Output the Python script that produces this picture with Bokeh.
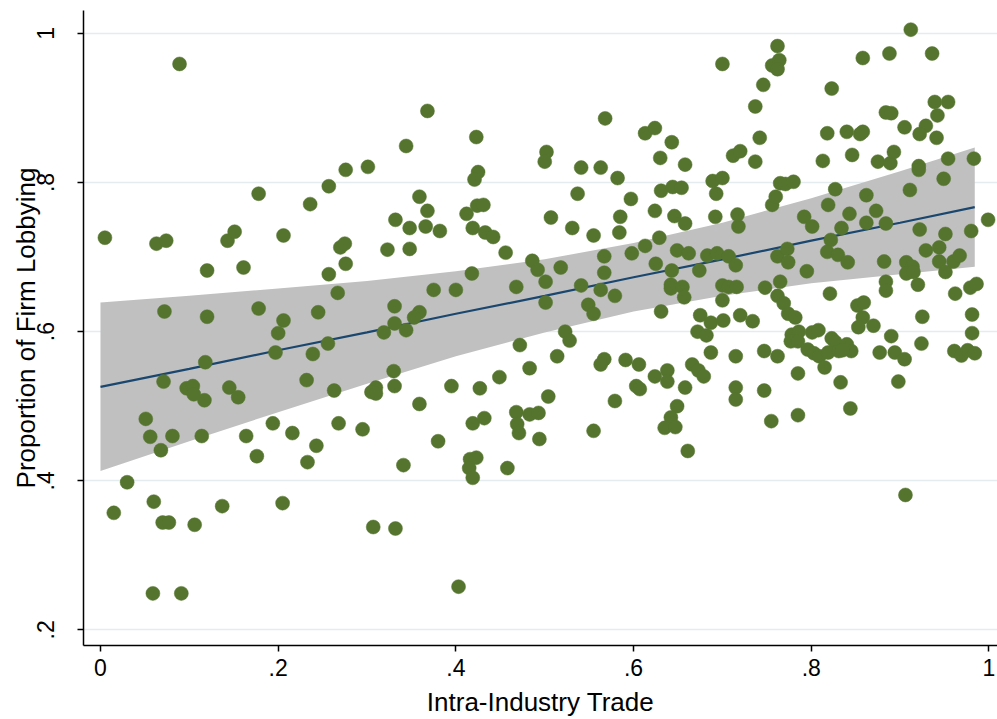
from bokeh.plotting import figure
from bokeh.models import FixedTicker, Range1d
from bokeh.embed import file_html
from bokeh.resources import INLINE

# Intra-industry trade (x) and proportion of firms lobbying (y)
trade = [
    .005, .015, .030, .060, .070, .077, .106, .137, .205, .059, .091, .056, .081, .114, .164,
    .068, .176, .216, .243, .233, .063, .074, .143, .151, .206, .120, .161, .072, .120, .178,
    .206, .245, .200, .197, .239, .118, .071, .232, .097, .104, .105, .117, .145, .155, .051,
    .194, .089, .178, .236,
    .257, .276, .301, .344, .368, .423, .425, .421, .359, .368, .332, .348, .366, .382, .412,
    .424, .431, .419, .433, .502, .500, .507, .442, .456, .270, .275, .323, .348, .276, .257,
    .418, .486, .492, .267, .375, .400, .468, .501, .501, .331, .359, .353, .331, .319, .344,
    .256, .472, .330, .483, .331, .449, .263, .310, .305, .310, .395, .427, .504, .359, .268,
    .295, .419, .432, .468, .483, .493, .469, .471, .380, .494, .341, .416, .423, .415, .419,
    .458, .307, .332, .403,
    .531, .555, .584, .658, .718, .629, .613, .598, .567, .649, .662, .683, .694, .707, .518,
    .625, .567, .643, .674, .715, .541, .563, .579, .642, .642, .655, .657, .700, .707, .716,
    .748, .762, .700, .549, .555, .631, .675, .687, .701, .720, .734, .762, .523, .528, .672,
    .682, .514, .687, .715, .747, .762, .567, .563, .591, .606, .624, .638, .638, .666, .673,
    .679, .603, .607, .658, .715, .715, .747, .579, .649, .642, .635, .647, .555, .755, .661,
    .700, .568, .613, .624, .643, .630, .658, .541, .563, .582, .537, .597, .631, .644, .654,
    .585, .624, .646, .689, .700, .693, .692, .717, .712, .720, .737, .742, .737, .746, .756,
    .764, .762, .762, .765, .756, .760,
    .912, .858, .888, .936, .823, .939, .954, .884, .890, .942, .905, .929, .922, .941, .818,
    .840, .855, .858, .846, .813, .875, .889, .893, .921, .921, .954, .983, .771, .780, .827,
    .862, .911, .949, .819, .792, .843, .873, .801, .834, .862, .884, .922, .951, .980, .999,
    .822, .818, .830, .841, .773, .774, .795, .765, .882, .929, .944, .907, .914, .907, .915,
    .944, .951, .960, .967, .920, .884, .884, .821, .962, .979, .986, .769, .852, .859, .774,
    .782, .858, .853, .870, .925, .981, .981, .778, .786, .777, .785, .801, .808, .823, .827,
    .840, .845, .796, .803, .809, .819, .831, .835, .815, .890, .877, .894, .905, .924, .961,
    .969, .976, .984, .785, .833, .898, .844, .785, .906,
]
lobbying = [
    .726, .357, .398, .372, .344, .344, .341, .366, .370, .249, .249, .459, .460, .460, .460,
    .441, .433, .464, .447, .425, .718, .722, .722, .734, .729, .682, .686, .627, .620, .631,
    .615, .626, .598, .572, .570, .559, .533, .535, .524, .527, .516, .508, .525, .512, .483,
    .477, .959, .785, .771,
    .795, .817, .821, .849, .896, .861, .814, .804, .781, .762, .750, .739, .741, .735, .758,
    .769, .770, .739, .733, .841, .828, .753, .727, .706, .713, .718, .710, .711, .691, .677,
    .678, .695, .683, .652, .656, .656, .660, .667, .639, .634, .626, .619, .611, .599, .602,
    .584, .582, .547, .551, .527, .539, .521, .525, .519, .517, .527, .524, .513, .503, .477,
    .469, .477, .484, .492, .489, .491, .476, .464, .453, .456, .421, .429, .431, .417, .404,
    .417, .338, .336, .258,
    .739, .729, .733, .745, .741, .726, .715, .705, .701, .709, .705, .702, .705, .701, .686,
    .691, .679, .682, .682, .689, .662, .656, .648, .663, .658, .660, .646, .662, .660, .660,
    .659, .701, .642, .636, .624, .627, .622, .612, .615, .622, .614, .648, .600, .588, .600,
    .595, .567, .572, .567, .574, .567, .563, .556, .562, .556, .540, .548, .533, .556, .548,
    .540, .527, .523, .525, .525, .509, .521, .507, .500, .485, .471, .472, .467, .480, .440,
    .959, .886, .866, .873, .854, .833, .824, .820, .820, .806, .785, .778, .789, .794, .793,
    .754, .762, .755, .802, .806, .785, .754, .757, .836, .842, .828, .860, .902, .931, .957,
    .964, .952, .983, .799, .770, .781,
    1.005, .967, .973, .973, .926, .908, .908, .894, .893, .890, .874, .876, .865, .860, .866,
    .868, .865, .868, .837, .829, .828, .826, .841, .822, .817, .832, .832, .798, .801, .791,
    .783, .790, .805, .770, .754, .758, .762, .741, .739, .746, .745, .737, .731, .735, .750,
    .723, .707, .703, .693, .711, .693, .681, .667, .694, .709, .713, .693, .687, .678, .680,
    .694, .680, .694, .702, .663, .667, .655, .651, .651, .659, .664, .638, .635, .639, .624,
    .619, .619, .606, .608, .620, .623, .598, .596, .600, .587, .587, .599, .602, .591, .586,
    .583, .574, .576, .571, .567, .572, .574, .575, .552, .594, .572, .572, .563, .584, .574,
    .568, .575, .571, .544, .532, .533, .497, .488, .381,
]

# Linear fit and its 95% confidence band
band_x = [0.0, 0.1, 0.2, 0.3, 0.4, 0.5, 0.6, 0.7, 0.8, 0.9, 0.984]
fit_y = [0.526, 0.550, 0.575, 0.599, 0.624, 0.648, 0.673, 0.697, 0.722, 0.746, 0.767]
band_hi = [0.639, 0.648, 0.658, 0.668, 0.681, 0.697, 0.719, 0.746, 0.779, 0.815, 0.847]
band_lo = [0.413, 0.453, 0.492, 0.530, 0.567, 0.599, 0.627, 0.648, 0.665, 0.677, 0.687]

x_ticks = [0, 0.2, 0.4, 0.6, 0.8, 1.0]
x_tick_labels = ["0", ".2", ".4", ".6", ".8", "1"]
y_ticks = [0.2, 0.4, 0.6, 0.8, 1.0]
y_tick_labels = [".2", ".4", ".6", ".8", "1"]

FONT = "Liberation Sans"

p = figure(width=997, height=719, output_backend="svg", toolbar_location=None,
           x_range=Range1d(-0.0191, 1.0096), y_range=Range1d(0.1791, 1.0307),
           min_border_left=83, min_border_right=0, min_border_top=10, min_border_bottom=72)
p.outline_line_color = None
p.background_fill_color = "white"
p.border_fill_color = "white"

p.varea(x=band_x, y1=band_lo, y2=band_hi, fill_color="#C0C0C0", fill_alpha=1.0)
p.line(band_x, fit_y, line_color="#1A476F", line_width=2.2)
p.scatter(trade, lobbying, size=14, fill_color="#55752F", line_color="#55752F", line_width=0.5)

p.xaxis.ticker = FixedTicker(ticks=x_ticks)
p.xaxis.major_label_overrides = {t: l for t, l in zip(x_ticks, x_tick_labels)}
p.yaxis.ticker = FixedTicker(ticks=y_ticks)
p.yaxis.major_label_overrides = {t: l for t, l in zip(y_ticks, y_tick_labels)}

for ax in (p.xaxis[0], p.yaxis[0]):
    ax.axis_line_color = "black"
    ax.axis_line_width = 1.5
    ax.major_tick_line_color = "black"
    ax.major_tick_line_width = 1.5
    ax.major_tick_out = 6
    ax.major_tick_in = 0
    ax.minor_tick_out = 0
    ax.minor_tick_in = 0
    ax.major_label_text_font = FONT
    ax.major_label_text_font_size = "23px"
    ax.major_label_text_color = "black"
    ax.axis_label_text_font = FONT
    ax.axis_label_text_font_size = "26px"
    ax.axis_label_text_font_style = "normal"
    ax.axis_label_text_color = "black"

p.xaxis.axis_label = "Intra-Industry Trade"
p.yaxis.axis_label = "Proportion of Firm Lobbying"
p.yaxis.major_label_orientation = "vertical"
p.xaxis.major_label_standoff = 7
p.xaxis.axis_label_standoff = 8
p.yaxis.major_label_standoff = 23
p.yaxis.axis_label_standoff = -6

p.xgrid.grid_line_color = None
p.ygrid.grid_line_color = "#E4ECEF"
p.ygrid.grid_line_width = 1.6

open("out.html", "w").write(file_html(p, INLINE))
